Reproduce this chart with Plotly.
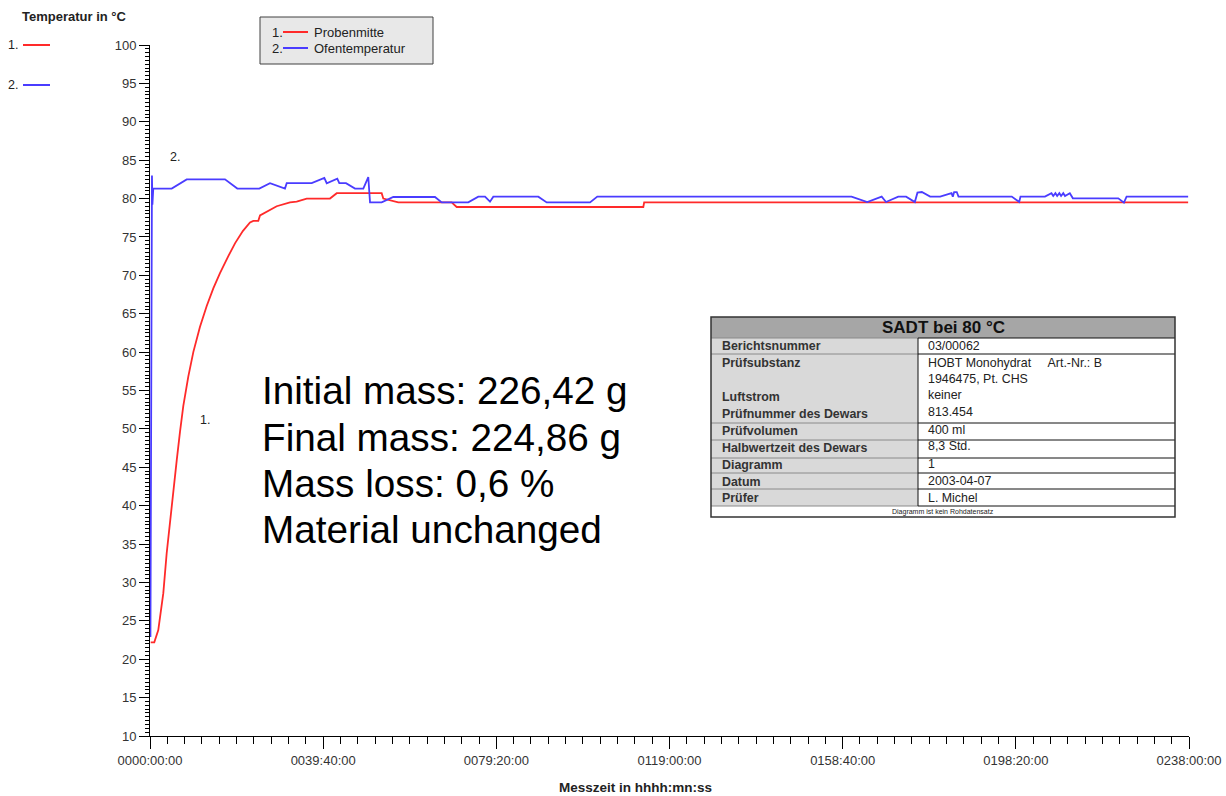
import plotly.graph_objects as go

# ---------------- data (time in hours, temperature in °C) ----------------
time_probe_h = [0.16, 0.98, 1.9, 2.5, 3.05, 3.82, 4.58, 5.34, 6.12, 6.87, 7.63, 8.77, 9.92,
                11.45, 12.99, 14.5, 16.03, 17.94, 19.5, 21.3, 22.91, 23.66, 24.81, 25.2,
                26.73, 29.02, 32.07, 33.6, 35.9, 41.23, 42.77, 53.07, 53.44, 56.88,
                69.1, 70.25, 113.0, 113.2, 237.8]
temp_probe = [22.2, 22.2, 23.8, 26.0, 28.6, 33.8, 38.1, 42.0, 45.9, 49.6, 53.0, 56.8, 60.0,
              63.3, 66.0, 68.3, 70.3, 72.5, 74.2, 75.8, 76.9, 77.1, 77.1, 77.8,
              78.3, 79.0, 79.5, 79.6, 80.0, 80.0, 80.7, 80.7, 80.0, 79.5,
              79.5, 78.9, 78.9, 79.5, 79.5]

time_oven_h = [0.1, 0.45, 0.55, 0.75, 4.97, 8.41, 17.18, 20.0, 25.04, 27.49, 30.92, 31.31,
               37.04, 39.93, 40.48, 42.9, 43.36, 44.9, 46.96, 48.86, 50.0, 50.4, 53.07,
               55.73, 65.28, 66.82, 72.91, 75.2, 76.74, 77.88, 78.64, 88.95, 90.87,
               100.8, 102.46, 160.7, 164.3, 167.6, 168.6, 171.4, 173.2, 175.2, 175.8,
               176.8, 178.7, 181.0, 183.6, 183.9, 184.2, 184.8, 185.2, 197.4, 199.1,
               199.4, 205.0, 206.5, 206.9, 207.4, 207.8, 208.3, 208.7, 209.2, 209.6,
               210.7, 211.4, 221.8, 223.1, 223.7, 237.8]
temp_oven = [22.9, 83.0, 79.2, 81.3, 81.3, 82.5, 82.5, 81.3, 81.3, 82.0, 81.3, 82.0,
             82.0, 82.7, 82.0, 82.6, 82.0, 82.0, 81.3, 81.3, 82.8, 79.5, 79.5,
             80.2, 80.2, 79.5, 79.5, 80.25, 80.25, 79.6, 80.25, 80.25, 79.5,
             79.5, 80.25, 80.25, 79.55, 80.25, 79.55, 80.25, 80.25, 79.55, 80.77,
             80.85, 80.25, 80.25, 80.7, 80.25, 80.85, 80.85, 80.25, 80.25, 79.55,
             80.25, 80.25, 80.7, 80.33, 80.7, 80.33, 80.7, 80.33, 80.7, 80.33,
             80.7, 80.03, 80.03, 79.47, 80.25, 80.25]

x_tick_vals = [0, 238 / 6, 2 * 238 / 6, 3 * 238 / 6, 4 * 238 / 6, 5 * 238 / 6, 238]
x_tick_text = ["0000:00:00", "0039:40:00", "0079:20:00", "0119:00:00",
               "0158:40:00", "0198:20:00", "0238:00:00"]

series_names = ["Probenmitte", "Ofentemperatur"]

info_labels = ["Berichtsnummer", "Prüfsubstanz", "Luftstrom", "Prüfnummer des Dewars",
               "Prüfvolumen", "Halbwertzeit des Dewars", "Diagramm", "Datum", "Prüfer"]
info_values = ["03/00062", "HOBT Monohydrat     Art.-Nr.: B<br>1946475, Pt. CHS", "keiner",
               "813.454", "400 ml", "8,3 Std.", "1", "2003-04-07", "L. Michel"]

mass_notes = ["Initial mass: 226,42 g", "Final mass: 224,86 g",
              "Mass loss: 0,6 %", "Material unchanged"]

# ---------------- layout helpers ----------------
W, H = 1226, 796
L, R, T, B = 150, 1189, 45, 736
FONT = "Liberation Sans, Arial, sans-serif"
RED = "#ff2a2a"
BLUE = "#4a3cff"


def px(x):
    return (x - L) / (R - L)


def py(y):
    return (B - y) / (B - T)


fig = go.Figure()
fig.add_trace(go.Scatter(x=time_probe_h, y=temp_probe, mode="lines",
                         line=dict(color=RED, width=1.8), name=series_names[0]))
fig.add_trace(go.Scatter(x=time_oven_h, y=temp_oven, mode="lines",
                         line=dict(color=BLUE, width=1.8), name=series_names[1]))

shapes = []
ann = []

def rect(x0, y0, x1, y1, fill, line_color=None, lw=1):
    shapes.append(dict(type="rect", xref="paper", yref="paper",
                       x0=px(x0), x1=px(x1), y0=py(y1), y1=py(y0),
                       fillcolor=fill, layer="above",
                       line=dict(color=line_color or fill, width=lw if line_color else 0)))


def hline(x0, x1, y, color, lw=1):
    shapes.append(dict(type="line", xref="paper", yref="paper",
                       x0=px(x0), x1=px(x1), y0=py(y), y1=py(y),
                       line=dict(color=color, width=lw), layer="above"))


def vline(x, y0, y1, color, lw=1):
    shapes.append(dict(type="line", xref="paper", yref="paper",
                       x0=px(x), x1=px(x), y0=py(y0), y1=py(y1),
                       line=dict(color=color, width=lw), layer="above"))


def text(x, y, s, size=12, color="#222", bold=False, xanchor="left", yanchor="middle"):
    if bold:
        s = "<b>" + s + "</b>"
    ann.append(dict(xref="paper", yref="paper", x=px(x), y=py(y), text=s,
                    showarrow=False, xanchor=xanchor, yanchor=yanchor,
                    font=dict(family=FONT, size=size, color=color), align="left"))


# y-axis title and left legend
text(20, 16, "Temperatur in °C", size=13, bold=True)
text(6, 45, "1.", size=12.5)
hline(23, 50, 45, RED, 2)
text(6, 85, "2.", size=12.5)
hline(23, 50, 85, BLUE, 2)

# legend box
rect(260, 17, 433, 64, "#e8e8e8", "#404040", 1)
text(270, 32, "1.", size=13)
hline(283, 308, 32, RED, 2)
text(312, 32, series_names[0], size=13)
text(270, 48, "2.", size=13)
hline(283, 308, 48, BLUE, 2)
text(312, 48, series_names[1], size=13)

# x-axis title
text(635, 787, "Messzeit in hhhh:mn:ss", size=13.5, bold=True, xanchor="center")

# mass notes
for i, s in enumerate(mass_notes):
    text(260, [390, 437, 484, 529][i], s, size=38.7, color="#000")

# info table
TX0, TX1, TXC = 711, 1175, 918
rect(TX0, 317, TX1, 517, "#ffffff")
rect(TX0, 317, TX1, 338, "#a6a6a6")
rect(TX0, 338, TXC, 506, "#d9d9d9")
text((TX0 + TX1) / 2, 327, "SADT bei 80 °C", size=17, bold=True, color="#111", xanchor="center")
row_lines = [338, 354, 423, 440, 458, 473, 489, 506]
for y in row_lines:
    hline(TX0, TXC, y, "#8a8a8a", 1)
    hline(TXC, TX1, y, "#111", 1)
vline(TXC, 338, 506, "#111", 1)
label_y = [346, 363, 397, 414, 431, 448, 465, 482, 498]
value_y = [346, 371, 395, 412, 430, 446, 464, 481, 498]
for i in range(len(info_labels)):
    text(720, label_y[i], info_labels[i], size=12.4, bold=True, color="#333")
    text(926, value_y[i], info_values[i], size=12.4, color="#222")
text((TX0 + TX1) / 2, 511.5, "Diagramm ist kein Rohdatensatz", size=7, color="#222", xanchor="center")
shapes.append(dict(type="rect", xref="paper", yref="paper",
                   x0=px(TX0), x1=px(TX1), y0=py(517), y1=py(317),
                   line=dict(color="#333", width=1.5), layer="above"))

# curve labels
ann.append(dict(x=12.6, y=51.2, xref="x", yref="y", text="1.", showarrow=False,
                font=dict(family=FONT, size=12.5, color="#222")))
ann.append(dict(x=5.7, y=85.4, xref="x", yref="y", text="2.", showarrow=False,
                font=dict(family=FONT, size=12.5, color="#222")))

fig.update_layout(
    autosize=False,
    width=W, height=H,
    margin=dict(l=L, r=W - R, t=T, b=H - B, pad=0),
    paper_bgcolor="white", plot_bgcolor="white",
    showlegend=False,
    font=dict(family=FONT, size=13, color="#333"),
    shapes=shapes, annotations=ann,
    xaxis=dict(range=[0, 238], tickmode="array", tickvals=x_tick_vals, ticktext=x_tick_text,
               automargin=False,
               showgrid=False, zeroline=False, showline=True, linecolor="black", linewidth=1,
               ticks="outside", ticklen=12, tickcolor="black", tickwidth=1,
               tickfont=dict(family=FONT, size=13, color="#333"),
               minor=dict(tickmode="linear", tick0=0, dtick=238 / 60, ticks="outside",
                          ticklen=7, tickcolor="black", tickwidth=1, showgrid=False)),
    yaxis=dict(range=[10, 100], tickmode="linear", tick0=10, dtick=5,
               automargin=False,
               showgrid=False, zeroline=False, showline=True, linecolor="black", linewidth=1,
               ticks="outside", ticklen=10, tickcolor="black", tickwidth=1,
               tickfont=dict(family=FONT, size=13, color="#333"),
               minor=dict(tickmode="linear", tick0=10, dtick=0.5, ticks="outside",
                          ticklen=4, tickcolor="black", tickwidth=1, showgrid=False)),
)

fig.write_html("out.html",
               config={"responsive": False, "displayModeBar": False},
               post_script="document.body.style.margin='0';document.body.style.overflow='hidden';")
